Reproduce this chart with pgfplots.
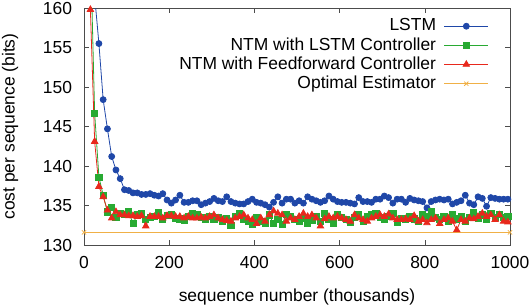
\documentclass[border=0pt]{standalone}
\usepackage{pgfplots}
\usepackage{pgfplotstable}
\pgfplotsset{compat=1.18}
\usepackage{fontspec}
\setmainfont{Liberation Sans}
\definecolor{cblue}{RGB}{31,71,168}
\definecolor{cgreen}{RGB}{40,170,50}
\definecolor{cred}{RGB}{232,40,28}
\definecolor{corange}{RGB}{240,176,70}

\pgfplotstableread{
x y
5 195
15 175
25 161.5
35 155.5
45 148.4
55 144.7
65 141.2
75 139.5
85 138.4
95 137.0
105 136.9
115 136.6
125 136.6
135 136.4
145 136.4
155 136.5
165 136.3
175 136.2
185 136.5
195 135.7
205 135.3
215 135.7
225 136.3
235 135.4
245 135.4
255 135.6
265 135.6
275 135.1
285 135.3
295 135.5
305 135.9
315 135.6
325 135.5
335 136.1
345 135.5
355 135.3
365 135.2
375 135.2
385 135.5
395 135.8
405 135.4
415 135.3
425 135.1
435 134.8
445 135.4
455 136.1
465 135.3
475 135.8
485 135.8
495 135.3
505 135.6
515 135.3
525 136.1
535 135.8
545 135.6
555 135.4
565 135.6
575 136.2
585 135.8
595 135.5
605 135.4
615 135.4
625 135.3
635 135.2
645 136.0
655 135.5
665 135.5
675 135.4
685 135.8
695 135.8
705 136.2
715 136.0
725 135.3
735 135.8
745 135.8
755 135.4
765 135.9
775 135.7
785 135.6
795 135.5
805 134.7
815 135.5
825 135.7
835 135.8
845 135.7
855 135.8
865 135.2
875 135.4
885 135.6
895 136.3
905 135.3
915 135.1
925 136.1
935 135.9
945 134.9
955 136.0
965 135.9
975 135.8
985 135.8
995 135.8
}\lstm

\pgfplotstableread{
x y
5 185
15 168
25 146.7
35 138.6
45 136.3
55 134.2
65 134.8
75 133.5
85 134.0
95 133.9
105 134.2
115 132.7
125 133.8
135 134.0
145 133.2
155 133.5
165 133.6
175 134.1
185 133.3
195 133.7
205 133.8
215 133.4
225 133.3
235 133.1
245 133.6
255 134.0
265 133.8
275 133.5
285 133.3
295 133.6
305 133.2
315 133.5
325 133.0
335 133.3
345 132.5
355 133.6
365 134.0
375 133.2
385 133.0
395 132.6
405 133.5
415 133.0
425 132.8
435 133.8
445 132.7
455 133.2
465 132.6
475 133.9
485 133.6
495 133.2
505 133.0
515 133.4
525 132.8
535 133.1
545 133.6
555 133.0
565 134.0
575 133.2
585 132.8
595 133.9
605 133.5
615 133.2
625 132.9
635 133.5
645 133.8
655 133.0
665 133.6
675 133.8
685 134.0
695 133.5
705 133.3
715 133.6
725 134.0
735 132.9
745 133.4
755 133.2
765 133.6
775 133.3
785 133.0
795 133.8
805 133.6
815 134.2
825 133.5
835 133.2
845 133.6
855 133.0
865 133.8
875 133.3
885 133.6
895 133.0
905 133.5
915 134.1
925 133.4
935 133.8
945 133.2
955 134.0
965 133.5
975 133.9
985 133.5
995 133.6
}\ntmlstm

\pgfplotstableread{
x y
5 185
15 159.8
25 143.1
35 137.4
45 136.1
55 134.4
65 133.4
75 134.2
85 133.8
95 133.8
105 133.7
115 133.7
125 133.6
135 133.7
145 132.4
155 133.6
165 133.6
175 133.6
185 133.4
195 133.7
205 133.7
215 133.6
225 133.6
235 133.4
245 133.6
255 133.4
265 133.4
275 133.5
285 133.4
295 133.6
305 133.8
315 133.4
325 133.2
335 133.1
345 133.0
355 133.4
365 133.6
375 133.8
385 133.4
395 133.2
405 132.7
415 133.4
425 133.0
435 133.8
445 134.3
455 134.0
465 133.8
475 133.0
485 133.4
495 133.2
505 133.6
515 134.0
525 133.6
535 133.8
545 133.4
555 132.4
565 133.3
575 133.6
585 133.4
595 133.6
605 133.4
615 133.2
625 133.0
635 133.8
645 133.4
655 133.2
665 133.0
675 133.4
685 133.6
695 133.8
705 133.6
715 133.9
725 133.4
735 133.2
745 133.2
755 133.3
765 133.2
775 133.7
785 133.0
795 133.2
805 132.8
815 133.2
825 133.4
835 132.7
845 133.2
855 133.4
865 133.0
875 131.9
885 133.2
895 133.0
905 133.4
915 133.3
925 133.6
935 134.0
945 133.6
955 133.8
965 133.2
975 133.8
985 133.0
995 132.9
}\ntmff

\pgfplotstableread{
x y
0 131.6
1000 131.6
}\optimal

\begin{document}
\fontsize{17.5}{20}\selectfont
\begin{tikzpicture}
\begin{axis}[
  scale only axis,
  width=426bp, height=237bp,
  xmin=0, xmax=1000, ymin=130, ymax=160,
  xtick={0,200,...,1000},
  ytick={130,135,...,160},
  xtick pos=both, ytick pos=both,
  tick align=inside,
  major tick length=5pt,
  axis line style={black!70},
  tick style={black!70, line width=0.6pt},
  /pgf/number format/assume math mode=true,
  /pgf/number format/1000 sep={},
  scaled ticks=false,
  tick label style={font=\fontsize{17.5}{20}\selectfont},
  x tick label style={yshift=-5pt},
  y tick label style={xshift=-6pt},
  label style={font=\fontsize{17.5}{20}\selectfont},
  xlabel={sequence number (thousands)},
  xlabel style={yshift=-9pt},
  ylabel={cost per sequence (bits)},
  ylabel style={yshift=13pt},
  legend style={draw=none, fill=none, at={(rel axis cs:0.955,0.972)}, anchor=north east,
    font=\fontsize{17.5}{20}\selectfont, row sep=0pt, inner sep=2pt},
  legend cell align=right,
  legend plot pos=right,
  legend image code/.code={\path (0pt,0pt); \draw[mark repeat=2,mark phase=2] plot coordinates {(6pt,0pt)(28pt,0pt)(50pt,0pt)};},
  every axis plot/.append style={line width=0.8pt},
]
\addplot[color=cblue, mark=*, mark size=3pt] table[x=x,y=y] {\lstm};
\addlegendentry{LSTM}
\addplot[color=cgreen, mark=square*, mark size=3.1pt] table[x=x,y=y] {\ntmlstm};
\addlegendentry{NTM with LSTM Controller}
\addplot[color=cred, mark=triangle*, mark size=3.7pt] table[x=x,y=y] {\ntmff};
\addlegendentry{NTM with Feedforward Controller}
\addplot[color=corange, mark=x, mark size=3pt] table[x=x,y=y] {\optimal};
\addlegendentry{Optimal Estimator}
\end{axis}
\pgfresetboundingbox
\path ([shift={(-84bp,-62bp)}]current axis.south west) rectangle ([shift={(20bp,8bp)}]current axis.north east);
\end{tikzpicture}
\end{document}
